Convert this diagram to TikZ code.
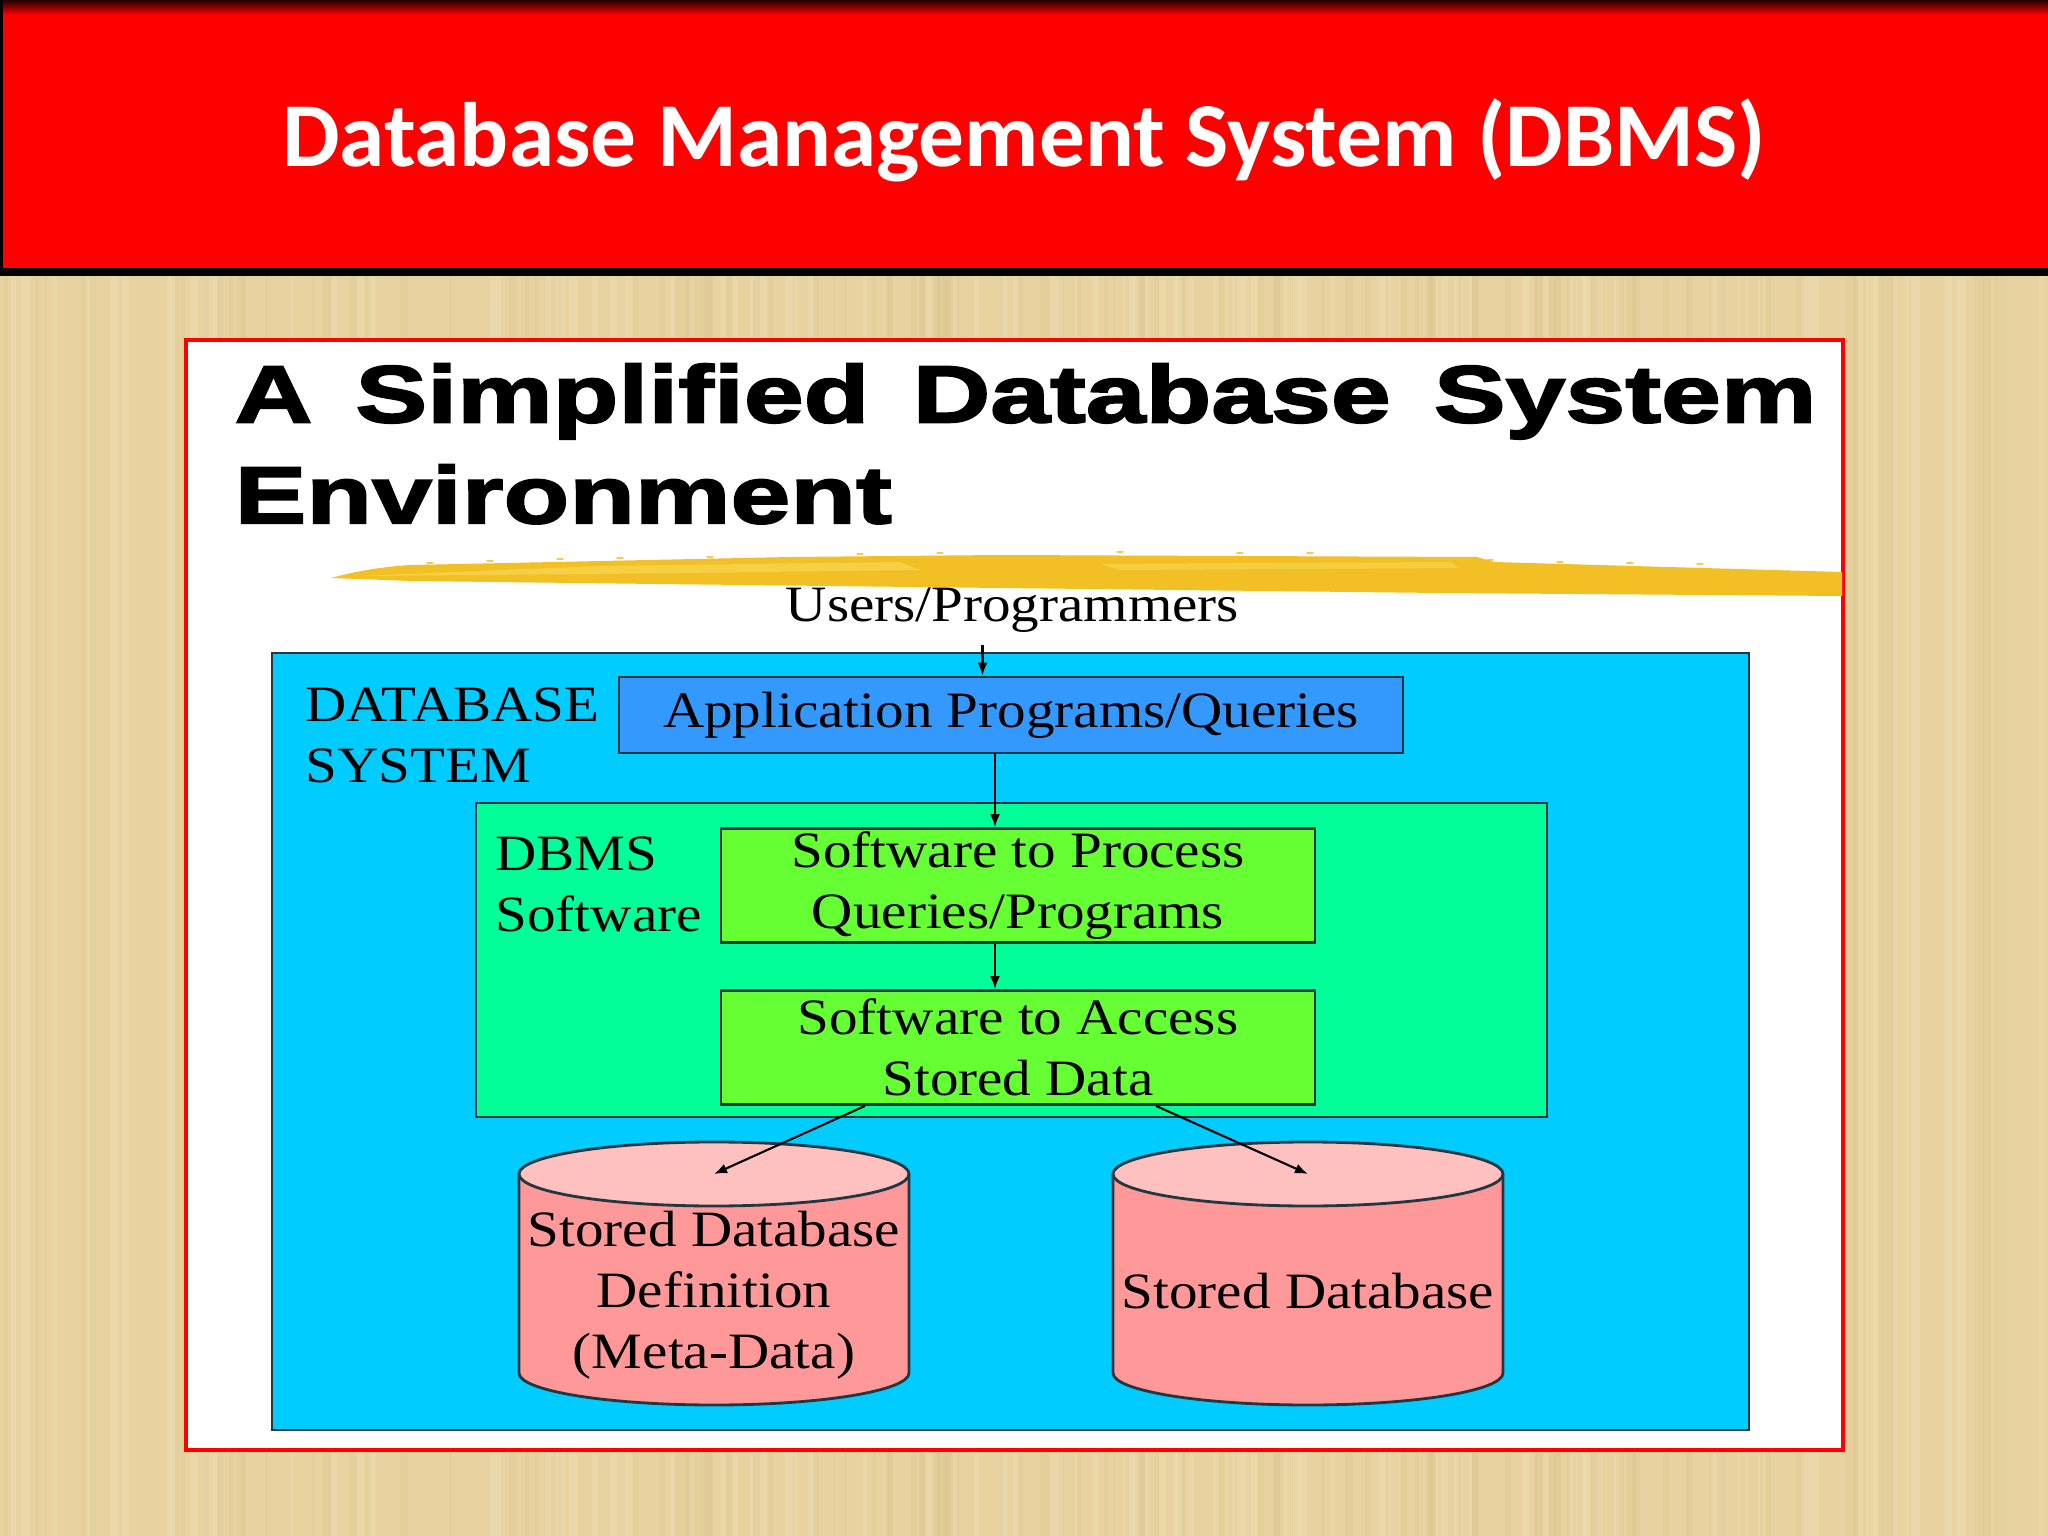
\documentclass[tikz,border=0pt]{standalone}
\usepackage{fontspec}
\usetikzlibrary{arrows.meta}
\setmainfont{Liberation Serif}
\newfontfamily\titlefont{Carlito}
\newfontfamily\headfont{Liberation Sans Bold}[FakeStretch=1.33,FakeBold=2.5,WordSpace=1.45]
\newfontfamily\boxfont{Liberation Serif}[FakeStretch=1.12]

\definecolor{woodbg}{RGB}{232,211,160}
\definecolor{woodline}{RGB}{212,188,132}
\definecolor{woodlight}{RGB}{242,226,184}
\definecolor{barred}{RGB}{255,0,0}
\definecolor{brushgold}{RGB}{242,192,36}
\definecolor{brushlight}{RGB}{248,214,84}
\definecolor{sysblue}{RGB}{0,204,255}
\definecolor{appblue}{RGB}{51,153,255}
\definecolor{dbmsgreen}{RGB}{0,255,153}
\definecolor{swgreen}{RGB}{102,255,51}
\definecolor{cylbody}{RGB}{255,153,153}
\definecolor{cyltop}{RGB}{255,192,192}
\definecolor{edge}{RGB}{35,55,65}

\begin{document}
\begin{tikzpicture}[
    boxtext/.style={font=\boxfont\fontsize{14.5}{17.4}\selectfont},
    frame/.style={draw=edge, line width=0.8pt},
    appbox/.style={frame, fill=appblue, minimum width=7.84cm, minimum height=0.76cm,
                   boxtext, inner sep=0pt},
    swbox/.style={frame, fill=swgreen, minimum width=5.94cm, minimum height=1.14cm,
                  boxtext, align=center, inner sep=0pt},
    conn/.style={-{Latex[length=0.13cm,width=0.1cm]}, line width=0.6pt}]
    % background
    \fill[woodbg] (0,0) rectangle (20.48,-15.36);
    \useasboundingbox (0,0) rectangle (20.48,-15.36);
    \pgfmathsetseed{3}
    \foreach \i in {1,...,120}{
        \pgfmathsetmacro{\sx}{rnd*20.4}
        \pgfmathsetmacro{\sw}{0.02+rnd*0.07}
        \fill[woodline, opacity=0.2] (\sx,-2.76) rectangle ++(\sw,-12.6);
        \pgfmathsetmacro{\lx}{rnd*20.4}
        \fill[woodlight, opacity=0.25] (\lx,-2.76) rectangle ++(\sw,-12.6);
    }
    % title bar
    \fill[barred] (0,0) rectangle (20.48,-2.72);
    \shade[top color=black!85!red, bottom color=barred] (0,0) rectangle (20.48,-0.15);
    \fill[black] (0,-2.68) rectangle (20.48,-2.76);
    \fill[black] (0,0) rectangle (0.03,-2.72);
    \node[font=\titlefont\bfseries\fontsize{26}{30}\selectfont, text=white, anchor=base]
        (title) at (10.24,-1.67) {Database Management System (DBMS)};
    % slide panel
    \draw[barred, line width=1.4pt, fill=white] (1.86,-3.40) rectangle (18.43,-14.50);
    \node[font=\headfont\fontsize{23}{28.7}\selectfont, anchor=north west, align=left,
          inner sep=0pt] (heading) at (2.34,-3.63) {A Simplified Database System\\Environment};
    % brush stroke
    \fill[brushgold] (3.31,-5.78) .. controls (3.6,-5.70) and (3.9,-5.66) .. (4.12,-5.65)
        -- (7.9,-5.57) -- (10.0,-5.55) -- (14.77,-5.57) -- (14.94,-5.62) -- (18.42,-5.72)
        -- (18.42,-5.96) -- (14.4,-5.93) -- (10.0,-5.88) -- (6.57,-5.84) -- (4.12,-5.81) -- cycle;
    \fill[brushlight, opacity=0.7] (3.6,-5.76) -- (6.0,-5.66) -- (9.0,-5.62) -- (9.2,-5.70)
        -- (6.0,-5.74) -- cycle;
    \fill[brushlight, opacity=0.6] (11.0,-5.64) -- (14.5,-5.62) -- (14.6,-5.68) -- (11.2,-5.70) -- cycle;
    \foreach \dx/\dy in {4.3/5.63, 4.9/5.61, 5.6/5.59, 6.2/5.58, 7.1/5.57, 8.6/5.54, 9.4/5.53,
                         11.2/5.52, 12.4/5.53, 13.1/5.53, 14.9/5.60, 15.6/5.62, 16.3/5.63, 17.0/5.64}
        \fill[brushgold, opacity=0.8] (\dx,-\dy) ellipse[x radius=0.04, y radius=0.012];
    \node[boxtext, anchor=base] (users) at (10.125,-6.22) {Users/Programmers};
    % database system
    \draw[frame, fill=sysblue] (2.72,-6.53) rectangle (17.49,-14.30);
    \node[boxtext, anchor=north west, align=left, inner sep=0pt] (dbsys) at (3.05,-6.87)
        {DATABASE\\SYSTEM};
    \node[appbox] (app) at (10.11,-7.15) {Application Programs/Queries};
    % dbms software
    \draw[frame, fill=dbmsgreen] (4.76,-8.03) rectangle (15.47,-11.17);
    \node[boxtext, anchor=north west, align=left, inner sep=0pt] (dbms) at (4.95,-8.36)
        {DBMS\\Software};
    \node[swbox] (proc) at (10.18,-8.855) {Software to Process\\Queries/Programs};
    \node[swbox] (access) at (10.18,-10.475) {Software to Access\\Stored Data};
    % stored data
    \foreach \cx/\nm in {7.14/meta, 13.08/data}{
        \filldraw[frame, fill=cylbody] (\cx-1.95,-11.74) -- (\cx-1.95,-13.73)
            arc[start angle=180, end angle=360, x radius=1.95, y radius=0.32] -- (\cx+1.95,-11.74);
        \filldraw[frame, fill=cyltop] (\cx,-11.74) ellipse[x radius=1.95, y radius=0.32];
        \coordinate (\nm-top) at (\cx,-11.74);
    }
    \node[boxtext, align=center, anchor=north, inner sep=0pt] (metadb) at (7.14,-12.10)
        {Stored Database\\Definition\\(Meta-Data)};
    \node[boxtext, anchor=base] (storeddb) at (13.08,-13.08) {Stored Database};
    % connectors
    \draw[conn] ([xshift=-3mm]users.south) -- ([xshift=-3mm]users.south |- app.north);
    \draw[conn] ([xshift=-1.6mm]app.south) -- ([xshift=-1.6mm]app.south |- proc.north);
    \draw[conn] ([xshift=-2.3mm]proc.south) -- ([xshift=-2.3mm]access.north);
    \draw[conn] ([xshift=-15.3mm]access.south) -- (meta-top);
    \draw[conn] ([xshift=13.8mm]access.south) -- (data-top);
\end{tikzpicture}
\end{document}
